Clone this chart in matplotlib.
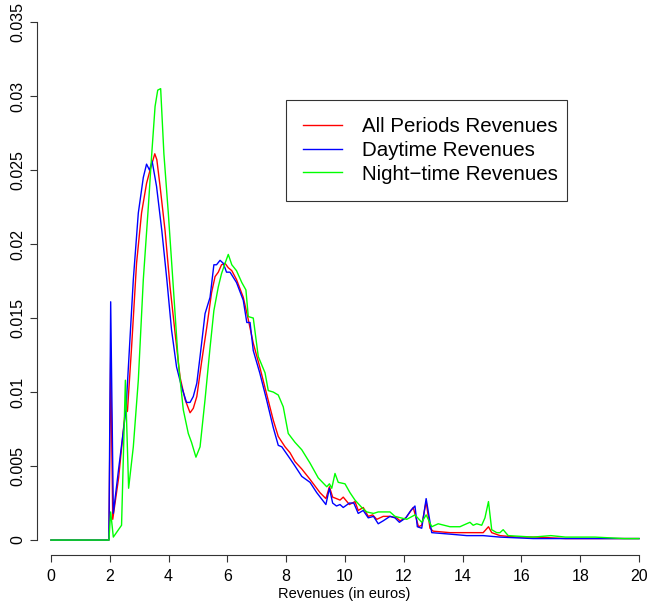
import matplotlib
matplotlib.use('Agg')
import matplotlib.pyplot as plt

plt.rcParams['font.family'] = ['Liberation Sans', 'DejaVu Sans']

# all periods (red)
x_all = [0, 1.97, 2.03, 2.1, 2.3, 2.52, 2.6, 2.74, 2.91, 3.08, 3.25, 3.37, 3.53, 3.6, 3.71,
         3.88, 4.05, 4.22, 4.39, 4.56, 4.73, 4.84, 4.96, 5.12, 5.3, 5.46, 5.58, 5.69, 5.8,
         5.92, 6.03, 6.15, 6.31, 6.54, 6.71, 6.88, 7.1, 7.33, 7.56, 7.73, 7.96, 8.13, 8.3,
         8.53, 8.81, 9.15, 9.35, 9.47, 9.58, 9.71, 9.83, 9.94, 10.15, 10.34, 10.45, 10.62,
         10.79, 10.94, 11.08, 11.3, 11.53, 11.76, 11.87, 12.07, 12.32, 12.5, 12.61, 12.76,
         12.89, 13.0, 13.57, 14.14, 14.7, 14.88, 14.99, 15.27, 15.84, 16.5, 17.5, 18.5, 19.5, 20]
y_all = [0, 0, 0.0124, 0.0014, 0.0042, 0.0086, 0.0087, 0.0130, 0.0187, 0.0221, 0.0241, 0.0250,
         0.0261, 0.0257, 0.0239, 0.0209, 0.0171, 0.0140, 0.0110, 0.0095, 0.0086, 0.0089,
         0.0097, 0.0120, 0.0144, 0.0167, 0.0178, 0.0181, 0.0186, 0.0187, 0.0184, 0.0182,
         0.0176, 0.0164, 0.0149, 0.0133, 0.0117, 0.0099, 0.0081, 0.0070, 0.0063, 0.0059,
         0.0053, 0.0048, 0.0041, 0.0032, 0.0028, 0.0036, 0.0029, 0.0028, 0.0027, 0.0029,
         0.0024, 0.0026, 0.0020, 0.0022, 0.0016, 0.0017, 0.0014, 0.0016, 0.0016, 0.0015,
         0.0013, 0.0015, 0.0022, 0.0009, 0.0010, 0.0026, 0.0008, 0.0006, 0.0005, 0.0005,
         0.0005, 0.0009, 0.0005, 0.0003, 0.0002, 0.0002, 0.0001, 0.0001, 0.0001, 0.0001]

# daytime (blue)
x_day = [0, 1.97, 2.03, 2.12, 2.3, 2.55, 2.8, 2.97, 3.14, 3.25, 3.35, 3.44, 3.59, 3.77, 3.94,
         4.1, 4.27, 4.45, 4.61, 4.73, 4.84, 4.96, 5.07, 5.24, 5.41, 5.54, 5.63, 5.75, 5.86,
         5.97, 6.09, 6.31, 6.54, 6.66, 6.77, 6.88, 7.1, 7.33, 7.56, 7.73, 7.85, 8.13, 8.3,
         8.53, 8.81, 9.04, 9.35, 9.47, 9.58, 9.71, 9.83, 9.94, 10.15, 10.3, 10.45, 10.62,
         10.79, 10.97, 11.13, 11.3, 11.53, 11.7, 11.85, 12.07, 12.24, 12.38, 12.46, 12.61,
         12.76, 12.95, 13.57, 14.14, 14.7, 15.27, 16.4, 17.5, 18.5, 19.5, 20]
y_day = [0, 0, 0.0161, 0.0018, 0.0048, 0.0088, 0.0176, 0.0221, 0.0245, 0.0254, 0.0250, 0.0256,
         0.0239, 0.0209, 0.0176, 0.0142, 0.0117, 0.0103, 0.0093, 0.0093, 0.0097, 0.0106,
         0.0124, 0.0153, 0.0164, 0.0186, 0.0186, 0.0189, 0.0187, 0.0181, 0.0181, 0.0174,
         0.0162, 0.0147, 0.0147, 0.0128, 0.0113, 0.0095, 0.0076, 0.0064, 0.0063, 0.0055,
         0.0050, 0.0043, 0.0039, 0.0032, 0.0024, 0.0035, 0.0025, 0.0023, 0.0024, 0.0022,
         0.0025, 0.0025, 0.0018, 0.0020, 0.0015, 0.0016, 0.0011, 0.0013, 0.0016, 0.0015,
         0.0012, 0.0015, 0.0020, 0.0023, 0.0009, 0.0008, 0.0028, 0.0005, 0.0004, 0.0003,
         0.0003, 0.0002, 0.0001, 0.0001, 0.0001, 0.0001, 0.0001]

# night-time (green)
x_night = [0, 1.97, 2.03, 2.12, 2.4, 2.53, 2.64, 2.8, 2.97, 3.14, 3.31, 3.42, 3.54, 3.63, 3.73,
           3.84, 3.99, 4.16, 4.33, 4.5, 4.67, 4.78, 4.93, 5.07, 5.24, 5.41, 5.54, 5.69, 5.8,
           5.92, 6.03, 6.15, 6.31, 6.49, 6.63, 6.71, 6.88, 7.05, 7.28, 7.39, 7.56, 7.73, 7.9,
           8.07, 8.3, 8.53, 8.81, 9.09, 9.38, 9.47, 9.55, 9.66, 9.77, 10.0, 10.17, 10.34,
           10.57, 10.74, 10.97, 11.13, 11.36, 11.53, 11.7, 12.1, 12.38, 12.61, 12.76, 12.95,
           13.17, 13.57, 13.91, 14.02, 14.25, 14.36, 14.48, 14.65, 14.76, 14.88, 14.99, 15.16,
           15.27, 15.38, 15.55, 16.4, 17.0, 17.5, 18.5, 19.5, 20]
y_night = [0, 0, 0.0019, 0.0002, 0.0010, 0.0108, 0.0035, 0.0063, 0.0108, 0.0176, 0.0225,
           0.0259, 0.0293, 0.0304, 0.0305, 0.0261, 0.0221, 0.0171, 0.0120, 0.0088, 0.0072,
           0.0066, 0.0056, 0.0063, 0.0095, 0.0130, 0.0155, 0.0171, 0.0180, 0.0187, 0.0193,
           0.0186, 0.0182, 0.0174, 0.0169, 0.0151, 0.0150, 0.0124, 0.0113, 0.0101, 0.0100,
           0.0098, 0.0090, 0.0072, 0.0066, 0.0061, 0.0052, 0.0042, 0.0036, 0.0038, 0.0035,
           0.0045, 0.0039, 0.0038, 0.0032, 0.0027, 0.0022, 0.0019, 0.0018, 0.0019, 0.0019,
           0.0019, 0.0016, 0.0014, 0.0017, 0.0012, 0.0017, 0.0009, 0.0011, 0.0009, 0.0009,
           0.0010, 0.0012, 0.0010, 0.0011, 0.0010, 0.0015, 0.0026, 0.0007, 0.0005, 0.0005,
           0.0007, 0.0003, 0.0002, 0.0003, 0.0002, 0.0002, 0.0001, 0.0001]

series_labels = ['All Periods Revenues', 'Daytime Revenues', 'Night\u2212time Revenues']
series_colors = ['red', 'blue', '#00FF00']
x_ticks = list(range(0, 21, 2))
y_ticks = [0, 0.005, 0.01, 0.015, 0.02, 0.025, 0.03, 0.035]
y_ticklabels = ['0', '0.005', '0.01', '0.015', '0.02', '0.025', '0.03', '0.035']

W, H = 651, 604
fig = plt.figure(figsize=(W / 100, H / 100), dpi=100)
# axes box in pixels: left 37, right 651, top 0, bottom 555
ax = fig.add_axes([37 / W, (H - 555) / H, (W - 37) / W, 555 / H])

ax.plot(x_all, y_all, color=series_colors[0], lw=1.0, label=series_labels[0])
ax.plot(x_day, y_day, color=series_colors[1], lw=1.0, label=series_labels[1])
ax.plot(x_night, y_night, color=series_colors[2], lw=1.0, label=series_labels[2])

ax.set_xlim(-0.476, 20.408)
ax.set_ylim(-0.00101, 0.03649)

for s in ['top', 'right']:
    ax.spines[s].set_visible(False)
ax.spines['left'].set_bounds(0, 0.035)
ax.spines['bottom'].set_bounds(0, 20)
for s in ['left', 'bottom']:
    ax.spines[s].set_linewidth(0.8)
    ax.spines[s].set_color('#333333')

ax.set_xticks(x_ticks)
ax.set_yticks(y_ticks)
ax.set_yticklabels(y_ticklabels, rotation=90, va='center')
ax.tick_params(axis='both', direction='out', length=5, width=0.8, color='#333333',
               labelsize=11.5)
ax.tick_params(axis='y', pad=3.5)
ax.tick_params(axis='x', pad=5)

ax.set_xlabel('Revenues (in euros)', fontsize=10.5, labelpad=2)

leg = ax.legend(loc='upper left', bbox_to_anchor=(249 / 614, 455 / 555, 281 / 614, 0.0),
                mode='expand', fontsize=14.8, frameon=True, fancybox=False,
                edgecolor='black', handlelength=1.85, handletextpad=1.0,
                labelspacing=0.22, borderpad=0.85, borderaxespad=0)
leg.get_frame().set_linewidth(0.8)

fig.savefig('out.png', dpi=100)
